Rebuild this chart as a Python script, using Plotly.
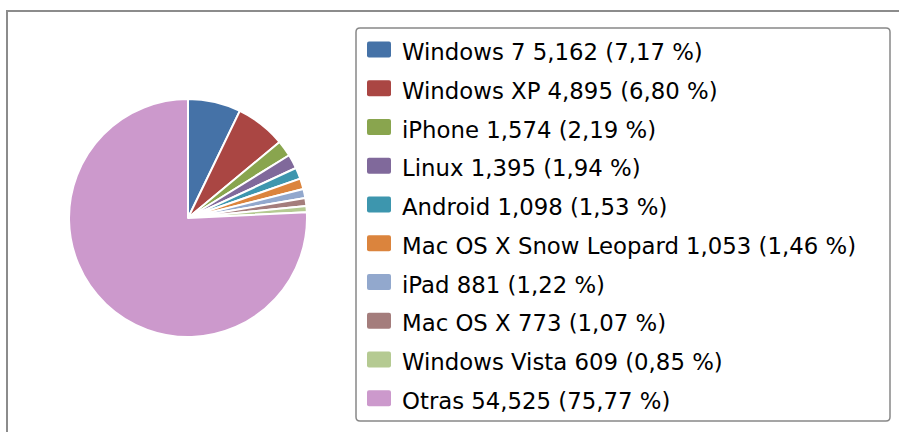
import plotly.graph_objects as go

labels = ["Windows 7", "Windows XP", "iPhone", "Linux", "Android",
          "Mac OS X Snow Leopard", "iPad", "Mac OS X", "Windows Vista", "Otras"]
values = [5162, 4895, 1574, 1395, 1098, 1053, 881, 773, 609, 54525]
colors = ["#4572A7", "#AA4643", "#89A54E", "#80699B", "#3D96AE",
          "#DB843D", "#92A8CD", "#A47D7C", "#B5CA92", "#CC99CC"]

total = sum(values)

def fmt_label(name, v):
    pct = f"{v / total * 100:.2f}".replace(".", ",")
    return f'<span style="font-size:22.8px">{name} {v:,} ({pct} %)</span>'

legend_labels = [fmt_label(n, v) for n, v in zip(labels, values)]

W, H = 899, 432

def px(x):
    return x / W

def py(y):
    return 1 - y / H

fig = go.Figure(go.Pie(
    labels=legend_labels,
    values=values,
    marker=dict(colors=colors, line=dict(color="white", width=2)),
    sort=False,
    direction="clockwise",
    rotation=0,
    textinfo="none",
    hoverinfo="label+value+percent",
    domain=dict(x=[px(69), px(307)], y=[py(337), py(99)]),
))

# rounded legend box path (radius in px)
x0, x1, y0, y1, r = 356, 890, 28, 421, 4
box_path = (
    f"M {px(x0 + r)},{py(y0)} L {px(x1 - r)},{py(y0)} "
    f"Q {px(x1)},{py(y0)} {px(x1)},{py(y0 + r)} "
    f"L {px(x1)},{py(y1 - r)} Q {px(x1)},{py(y1)} {px(x1 - r)},{py(y1)} "
    f"L {px(x0 + r)},{py(y1)} Q {px(x0)},{py(y1)} {px(x0)},{py(y1 - r)} "
    f"L {px(x0)},{py(y0 + r)} Q {px(x0)},{py(y0)} {px(x0 + r)},{py(y0)} Z"
)

fig.update_layout(
    width=W, height=H,
    margin=dict(l=0, r=0, t=0, b=0),
    paper_bgcolor="white",
    plot_bgcolor="white",
    font=dict(family="DejaVu Sans", color="#000000"),
    showlegend=True,
    legend=dict(
        x=px(356), xanchor="left",
        y=py(25), yanchor="top",
        itemwidth=36,
        font=dict(size=27.5, family="DejaVu Sans", color="#000000"),
        bgcolor="rgba(0,0,0,0)",
        borderwidth=0,
    ),
    shapes=[
        dict(type="path", xref="paper", yref="paper",
             path=f"M {px(7)},-0.1 L {px(7)},{py(11)} L 1.1,{py(11)}",
             line=dict(color="#8c8c8c", width=2)),
        dict(type="path", xref="paper", yref="paper", path=box_path,
             line=dict(color="#888888", width=1.5)),
    ],
)

post = """
document.body.style.margin = '0';
var gd = document.getElementById('{plot_id}');
gd.querySelectorAll('path.legendpie').forEach(function(p) {
  p.setAttribute('d', 'M-10,-8H10Q12,-8 12,-6V6Q12,8 10,8H-10Q-12,8 -12,6V-6Q-12,-8 -10,-8Z');
  p.style.strokeWidth = '0';
});
"""

fig.write_html("out.html", post_script=post, config={"displayModeBar": False})
